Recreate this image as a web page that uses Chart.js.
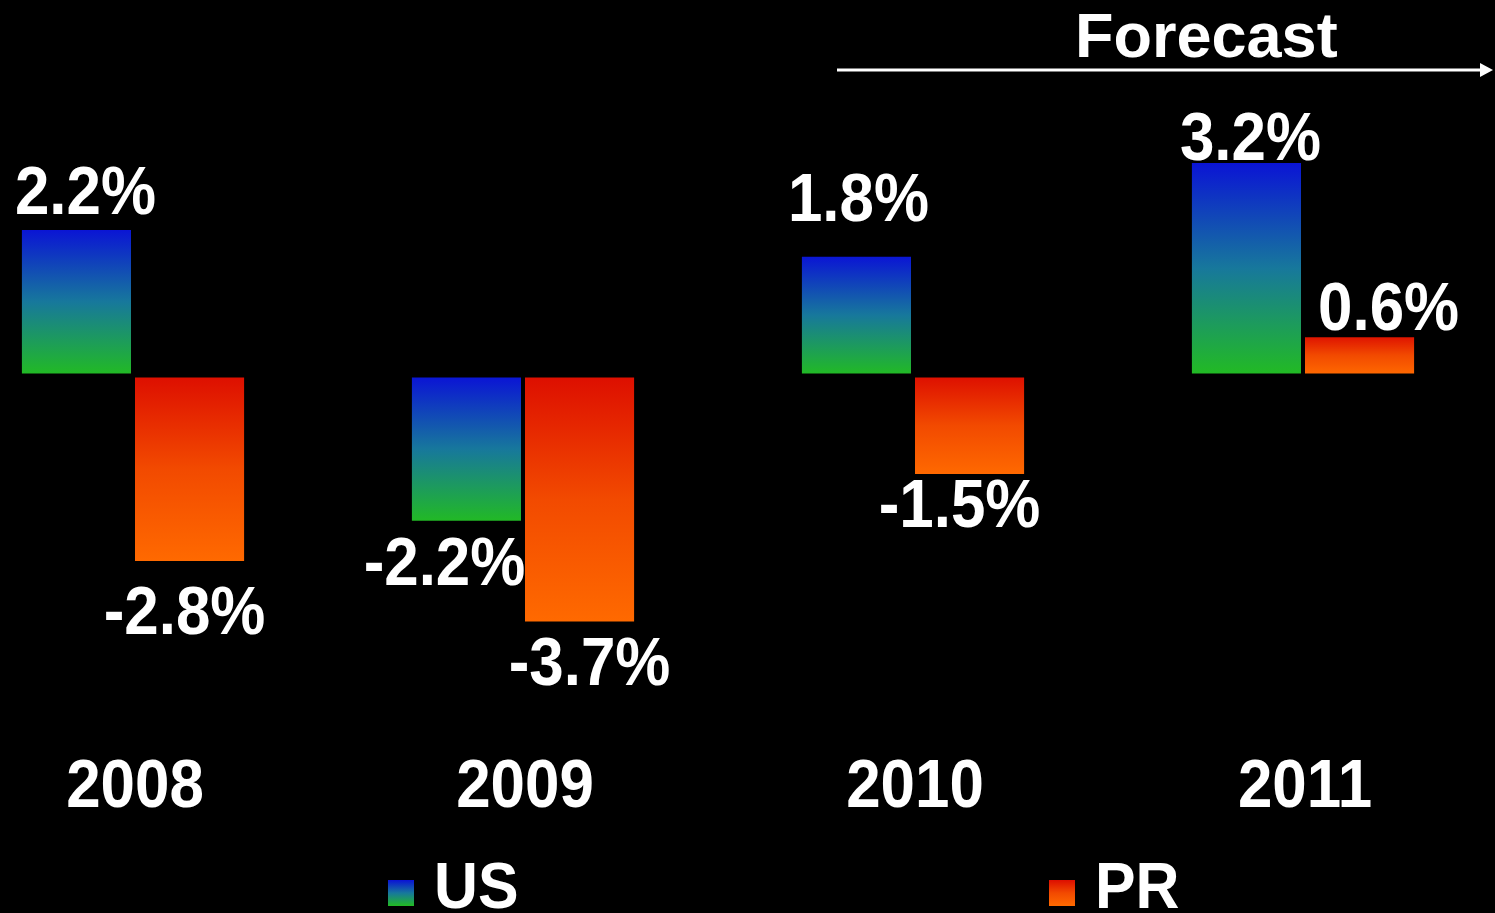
<!DOCTYPE html>
<html>
<head>
<meta charset="utf-8">
<script src="https://cdn.jsdelivr.net/npm/chart.js@4.4.0/dist/chart.umd.min.js"></script>
<style>
  html, body { margin: 0; padding: 0; background: #000; overflow: hidden; }
  #wrap { position: absolute; left: -62px; top: 0; width: 1560px; height: 913px; }
</style>
</head>
<body>
<div id="wrap"><canvas id="chart" width="1560" height="913"></canvas></div>
<script>
// data
const years = ["2008", "2009", "2010", "2011"];
const usGrowth = [2.2, -2.2, 1.8, 3.2];
const prGrowth = [-2.8, -3.7, -1.5, 0.6];
const seriesNames = ["US", "PR"];

const FONT = '"Liberation Sans", Arial, sans-serif';
const usStops = ["#0a12d6", "#17789c", "#22bb22"];
const prStops = ["#dd0e00", "#f24a00", "#ff6a00"];

// bar gradient, top to bottom of each bar
function barFill(stops) {
  return (c) => {
    const v = c.raw;
    const y = c.chart.scales.y;
    if (v === undefined || !y) return stops[0];
    const a = y.getPixelForValue(v), b = y.getPixelForValue(0);
    if (!isFinite(a) || !isFinite(b) || a === b) return stops[0];
    const g = c.chart.ctx.createLinearGradient(0, Math.min(a, b), 0, Math.max(a, b));
    stops.forEach((s, i) => g.addColorStop(i / (stops.length - 1), s));
    return g;
  };
}

function squishText(ctx, text, x, y, sx, align) {
  ctx.save();
  ctx.translate(x, y);
  ctx.scale(sx, 1);
  ctx.textAlign = align || "center";
  ctx.fillText(text, 0, 0);
  ctx.restore();
}

// value labels, year labels, forecast arrow, legend
const decorations = {
  id: "decorations",
  afterDatasetsDraw(chart, args, opts) {
    const ctx = chart.ctx;
    const xs = chart.scales.x;
    ctx.save();
    ctx.fillStyle = "#fff";
    ctx.textBaseline = "alphabetic";

    // value labels
    ctx.font = "bold 68px " + FONT;
    chart.data.datasets.forEach((ds, di) => {
      chart.getDatasetMeta(di).data.forEach((el, i) => {
        const v = ds.data[i];
        const off = opts.labelOffsets[di][i];
        const txt = v.toFixed(1) + "%";
        squishText(ctx, txt, el.x + off[0], el.y + off[1], 0.91);
      });
    });

    // year labels
    years.forEach((yr, i) => {
      squishText(ctx, yr, xs.getPixelForValue(i) + 2, 807, 0.91);
    });

    // forecast
    ctx.font = "bold 63px " + FONT;
    ctx.textAlign = "left";
    ctx.fillText("Forecast", 1137, 57);
    ctx.strokeStyle = "#fff";
    ctx.lineWidth = 3;
    ctx.beginPath();
    ctx.moveTo(899, 70);
    ctx.lineTo(1544, 70);
    ctx.stroke();
    ctx.beginPath();
    ctx.moveTo(1542, 63);
    ctx.lineTo(1555, 70);
    ctx.lineTo(1542, 77);
    ctx.closePath();
    ctx.fill();

    // legend
    const legend = [[450, usStops], [1111, prStops]];
    ctx.font = "bold 64px " + FONT;
    legend.forEach((item, i) => {
      const x = item[0];
      const g = ctx.createLinearGradient(0, 880, 0, 906);
      item[1].forEach((s, k) => g.addColorStop(k / (item[1].length - 1), s));
      ctx.fillStyle = g;
      ctx.fillRect(x, 880, 26, 26);
      ctx.fillStyle = "#fff";
      squishText(ctx, seriesNames[i], x + 46, 908, 0.95, "left");
    });
    ctx.restore();
  }
};

new Chart(document.getElementById("chart"), {
  type: "bar",
  data: {
    labels: years,
    datasets: [
      { label: seriesNames[0], data: usGrowth, backgroundColor: barFill(usStops) },
      { label: seriesNames[1], data: prGrowth, backgroundColor: barFill(prStops) }
    ]
  },
  options: {
    responsive: false,
    animation: false,
    devicePixelRatio: 1,
    layout: { padding: 0 },
    datasets: {
      bar: {
        categoryPercentage: 0.58,
        barPercentage: 1,
        borderWidth: 2,
        borderColor: "#000",
        borderSkipped: false
      }
    },
    scales: {
      x: { display: false, offset: true },
      y: { display: false, min: -8.02, max: 5.6 }
    },
    plugins: {
      legend: { display: false },
      tooltip: { enabled: false },
      decorations: {
        labelOffsets: [
          [[9, -14], [-22, 62], [2, -34], [4, -1]],
          [[-5, 71], [10, 62], [-10, 51], [29, -5]]
        ]
      }
    }
  },
  plugins: [decorations]
});
</script>
</body>
</html>
